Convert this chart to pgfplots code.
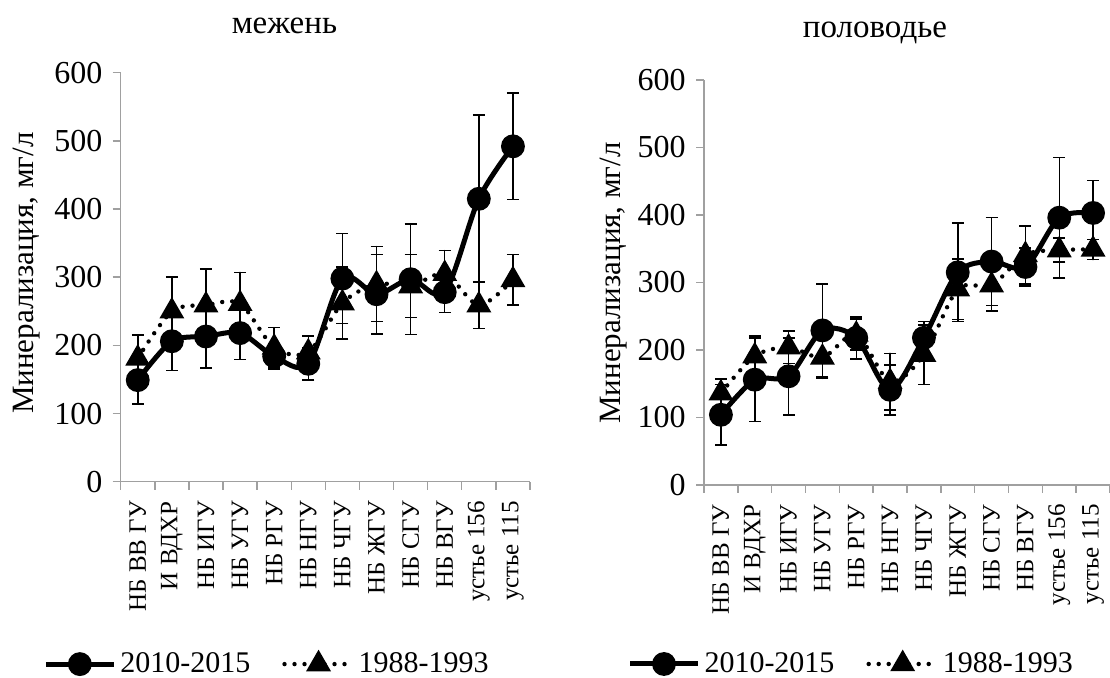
\documentclass[border=0pt]{standalone}
\usepackage{pgfplots}
\pgfplotsset{compat=1.18}
\usepackage{pgfplotstable}
\usepackage{fontspec}
\setmainfont{Liberation Serif}

\pgfplotstableread{
x c ce t te
1 149 35 181 34
2 206 43 250 50
3 213 46 259 53
4 218 39 261 46
5 184 19 197 29
6 173 24 190 24
7 298 66 262 53
8 275 58 290 55
9 297 81 287 46
10 278 30 305 34
11 415 123 259 34
12 492 78 296 37
}\datamez

\pgfplotstableread{
x c ce t te
1 104 45 136 21
2 156 62 191 30
3 161 57 204 24
4 229 69 189 31
5 218 31 223 23
6 141 37 153 42
7 218 24 193 44
8 315 73 290 45
9 331 65 296 38
10 323 28 341 43
11 396 89 348 18
12 403 48 349 15
}\datapol

\definecolor{axgray}{HTML}{A0A0A0}

\pgfplotsset{
  myaxis/.style={
    scale only axis,
    xmin=0.5, xmax=12.5, ymin=0, ymax=600,
    axis x line*=bottom, axis y line*=left,
    axis line style={draw=axgray, line width=0.7pt},
    tick align=outside,
    major tick length=4pt,
    tick style={draw=axgray, line width=0.7pt},
    xtick={0.5,1.5,...,12.5}, xticklabels={},
    extra x ticks={1,...,12},
    extra x tick labels={НБ ВВ ГУ,И ВДХР,НБ ИГУ,НБ УГУ,НБ РГУ,НБ НГУ,НБ ЧГУ,НБ ЖГУ,НБ СГУ,НБ ВГУ,устье 156,устье 115},
    extra x tick style={major tick length=0pt},
    xticklabel style={rotate=90, anchor=east, font=\fontsize{12.5}{12.5}\selectfont, inner sep=0pt},
    xticklabel shift=9.5pt,
    ytick={0,100,...,600},
    yticklabel style={font=\fontsize{16}{16}\selectfont, /pgf/number format/assume math mode=true, inner sep=1pt, xshift=-4pt},
    ylabel={Минерализация, мг/л},
    ylabel style={font=\fontsize{15.5}{16}\selectfont, anchor=center},
    every axis title shift=0pt,
    clip=false,
    legend columns=2,
    legend style={draw=none, fill=none, font=\fontsize{15}{16}\selectfont, anchor=center,
      /tikz/every even column/.append style={column sep=14pt}, inner sep=0pt},
    legend image code/.code={\draw[mark repeat=2,mark phase=2,#1] plot coordinates {(0pt,0pt) (17pt,0pt) (34pt,0pt)};},
  },
  cser/.style={black, line width=2.5pt, smooth, tension=0.5, mark=*, mark size=4.7pt,
    error bars/.cd, y dir=both, y explicit,
    error bar style={line width=0.75pt, solid, black},
    error mark options={rotate=90, black, mark size=3pt, line width=0.75pt, solid}},
  tser/.style={black, line width=2.2pt, smooth, tension=0.5, line cap=round, dash pattern=on 0pt off 5pt,
    mark=triangle*, mark size=5pt, mark options={solid},
    error bars/.cd, y dir=both, y explicit,
    error bar style={line width=0.75pt, solid, black},
    error mark options={rotate=90, black, mark size=3pt, line width=0.75pt, solid}},
}

\begin{document}
\begin{tikzpicture}
\useasboundingbox (0,0) rectangle (555pt,339pt);
\begin{axis}[myaxis,
  at={(60.35pt,98.15pt)}, anchor=south west,
  width=204.65pt, height=204.5pt,
  title={межень}, title style={at={(axis description cs:0.40,1.097)}, anchor=base, font=\fontsize{16.5}{17}\selectfont},
  ylabel style={at={(axis description cs:-0.229,0.51)}},
  legend style={at={(axis description cs:0.36,-0.446)}},
  legend entries={2010-2015,1988-1993},
]
\addplot[cser] table[x=x, y=c, y error=ce] {\datamez};
\addplot[tser] table[x=x, y=t, y error=te] {\datamez};
\end{axis}
\begin{axis}[myaxis,
  at={(352pt,96.5pt)}, anchor=south west,
  width=203pt, height=202.5pt,
  title={половодье}, title style={at={(axis description cs:0.421,1.106)}, anchor=base, font=\fontsize{16.5}{17}\selectfont},
  ylabel style={at={(axis description cs:-0.222,0.499)}},
  legend style={at={(axis description cs:0.365,-0.442)}},
  legend entries={2010-2015,1988-1993},
]
\addplot[cser] table[x=x, y=c, y error=ce] {\datapol};
\addplot[tser] table[x=x, y=t, y error=te] {\datapol};
\end{axis}
\end{tikzpicture}
\end{document}
